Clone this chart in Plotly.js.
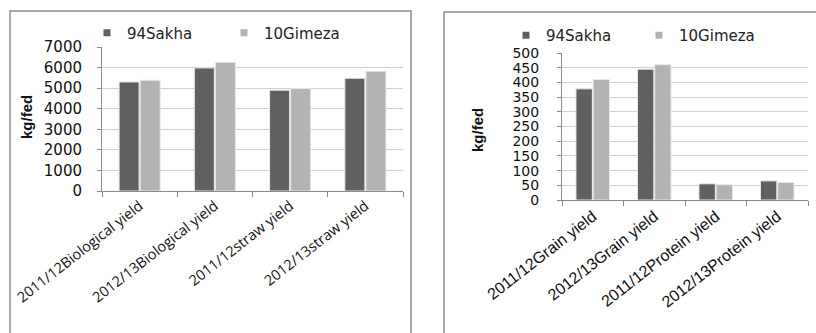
<!DOCTYPE html>
<html>
<head>
<meta charset="utf-8">
<script src="https://cdn.plot.ly/plotly-3.0.1.min.js"></script>
<style>
  html, body { margin: 0; padding: 0; background: #fff; overflow: hidden; }
  #chart { width: 816px; height: 333px; }
</style>
</head>
<body>
<div id="chart"></div>
<script>
// Left panel: biological and straw yield (kg/fed)
const yieldCatsA = ["2011/12Biological yield", "2012/13Biological yield", "2011/12straw yield", "2012/13straw yield"];
const sakhaA = [5300, 5980, 4900, 5480];
const gimezaA = [5380, 6260, 4980, 5820];
const ticksA = [0, 1000, 2000, 3000, 4000, 5000, 6000, 7000];

// Right panel: grain and protein yield (kg/fed)
const yieldCatsB = ["2011/12Grain yield", "2012/13Grain yield", "2011/12Protein yield", "2012/13Protein yield"];
const sakhaB = [378, 445, 55, 65];
const gimezaB = [410, 460, 52, 60];
const ticksB = [0, 50, 100, 150, 200, 250, 300, 350, 400, 450, 500];

const seriesNames = ["94Sakha", "10Gimeza"];
const seriesColors = ["#606060", "#b3b3b3"];

const W = 816, H = 333;
const px = v => v / W;
const py = v => 1 - v / H;

const SANS = "DejaVu Sans, Verdana, sans-serif";
const ARIAL = "Liberation Sans, Arial, sans-serif";
const OPEN = "Open Sans, Liberation Sans, sans-serif";

function barTrace(i, x, y, xa, ya) {
  return {
    type: "bar", name: seriesNames[i], x: x, y: y, xaxis: xa, yaxis: ya,
    showlegend: false,
    marker: { color: seriesColors[i], line: { color: "#e8e8e8", width: 1 } },
    hoverinfo: "x+y+name"
  };
}

// Legend-only entries: small square keys like the spreadsheet legend
function legendKey(i, xa, ya, legend) {
  return {
    type: "scatter", mode: "markers", name: seriesNames[i],
    x: [null], y: [null], xaxis: xa, yaxis: ya, legend: legend,
    marker: { symbol: "square", size: 7, color: seriesColors[i] },
    showlegend: true, hoverinfo: "skip"
  };
}

const data = [
  barTrace(0, yieldCatsA, sakhaA, "x", "y"),
  barTrace(1, yieldCatsA, gimezaA, "x", "y"),
  barTrace(0, yieldCatsB, sakhaB, "x2", "y2"),
  barTrace(1, yieldCatsB, gimezaB, "x2", "y2"),
  legendKey(0, "x", "y", "legend"),
  legendKey(1, "x", "y", "legend"),
  legendKey(0, "x2", "y2", "legend2"),
  legendKey(1, "x2", "y2", "legend2")
];

const xCommon = {
  type: "category",
  showgrid: false,
  showline: true, linecolor: "#8a8a8a", linewidth: 1,
  ticks: "outside", tickson: "boundaries", ticklen: 5, tickcolor: "#8a8a8a",
  tickangle: -38,
  automargin: false,
  fixedrange: true
};
const yCommon = {
  showgrid: true, gridcolor: "#cfcfcf", gridwidth: 1,
  showline: true, linecolor: "#8a8a8a", linewidth: 1,
  ticks: "outside", ticklen: 4, tickcolor: "#8a8a8a",
  zeroline: false,
  automargin: false,
  fixedrange: true
};

const legendCommon = {
  orientation: "h",
  font: { family: SANS, size: 15, color: "#222" },
  bgcolor: "rgba(0,0,0,0)",
  xanchor: "left", yanchor: "middle",
  traceorder: "normal",
  entrywidthmode: "pixels",
  itemclick: false, itemdoubleclick: false
};

const layout = {
  width: W, height: H,
  margin: { l: 0, r: 0, t: 0, b: 0, autoexpand: false },
  paper_bgcolor: "#fff", plot_bgcolor: "#fff",
  barmode: "group", bargap: 0.44, bargroupgap: 0.05,
  xaxis: Object.assign({}, xCommon, {
    domain: [px(102), px(403)], anchor: "y",
    tickfont: { family: OPEN, size: 14.5, color: "#111" }
  }),
  yaxis: Object.assign({}, yCommon, {
    domain: [py(191), py(47)], anchor: "x",
    range: [0, 7000], tickvals: ticksA, ticktext: ticksA.map(String),
    tickfont: { family: SANS, size: 15, color: "#111" },
    ticklabelstandoff: 12
  }),
  xaxis2: Object.assign({}, xCommon, {
    domain: [px(562), px(808)], anchor: "y2",
    tickfont: { family: ARIAL, size: 16, color: "#111" }
  }),
  yaxis2: Object.assign({}, yCommon, {
    domain: [py(200), py(53)], anchor: "x2",
    range: [0, 500], tickvals: ticksB, ticktext: ticksB.map(String),
    tickfont: { family: SANS, size: 14, color: "#111" },
    ticklabelstandoff: 15
  }),
  legend: Object.assign({}, legendCommon, { x: px(87), y: py(33), entrywidth: 92 }),
  legend2: Object.assign({}, legendCommon, { x: px(506), y: py(35.5), entrywidth: 88 }),
  annotations: [
    { text: "<b>kg/fed</b>", xref: "paper", yref: "paper", x: px(27), y: py(117),
      xanchor: "center", yanchor: "middle",
      textangle: -90, showarrow: false, font: { family: ARIAL, size: 15, color: "#111" } },
    { text: "<b>kg/fed</b>", xref: "paper", yref: "paper", x: px(477), y: py(130),
      xanchor: "center", yanchor: "middle",
      textangle: -90, showarrow: false, font: { family: ARIAL, size: 15, color: "#111" } }
  ],
  shapes: [
    { type: "rect", xref: "paper", yref: "paper", x0: px(10), x1: px(411), y0: py(345), y1: py(11),
      line: { color: "#8c8c8c", width: 1.5 }, fillcolor: "rgba(0,0,0,0)", layer: "below" },
    { type: "rect", xref: "paper", yref: "paper", x0: px(444), x1: px(830), y0: py(345), y1: py(12),
      line: { color: "#8c8c8c", width: 1.5 }, fillcolor: "rgba(0,0,0,0)", layer: "below" }
  ],
  showlegend: true
};

Plotly.newPlot("chart", data, layout, { displayModeBar: false, staticPlot: true });
</script>
</body>
</html>
